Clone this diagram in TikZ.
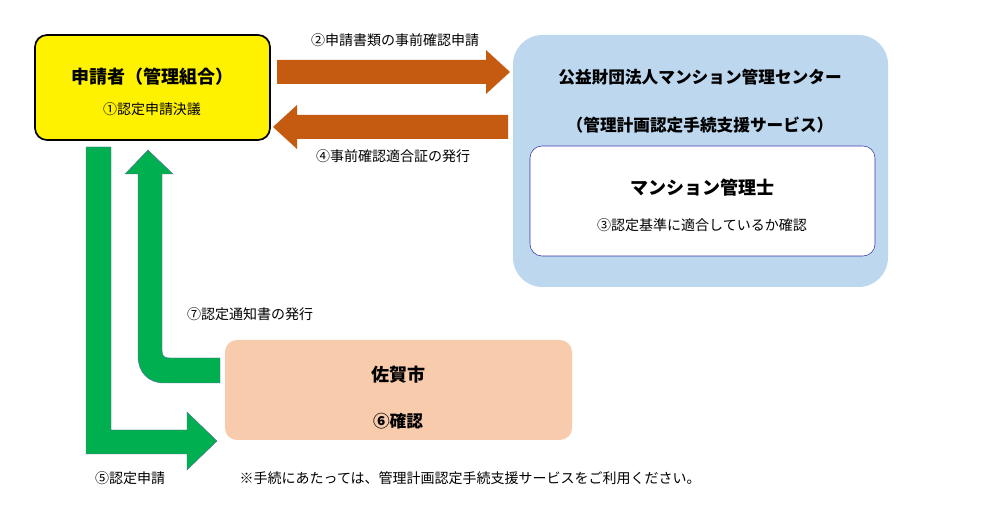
\documentclass[tikz,border=0pt]{standalone}
\usepackage{fontspec}
\setmainfont{Noto Sans CJK JP}
\begin{document}
\begin{tikzpicture}[x=0.75pt,y=-0.75pt,
 big/.style={font=\fontsize{13.5}{16}\selectfont\bfseries},
 sm/.style={font=\fontsize{10.5}{13}\selectfont},
 garrow/.style={fill=green!65!black!90!blue, draw=blue!50!black!70, line width=0.4pt},
 oarrow/.style={fill=orange!70!brown!90!black}]
\definecolor{gr}{HTML}{00AF50}
\definecolor{og}{HTML}{C55A11}
\definecolor{bl}{HTML}{BDD7EE}
\definecolor{pc}{HTML}{F8CBAD}
\useasboundingbox (0,0) rectangle (1008,520);
% yellow box
\node[draw=black, line width=1.3pt, fill=yellow, rounded corners=9pt, minimum width=235*0.75pt, minimum height=105*0.75pt] (app) at (152.5,87.5) {};
\node[big] (appt) at (152,77) {申請者（管理組合）};
\node[sm] (appd) at (152,109) {①認定申請決議};
% blue box
\node[fill=bl, rounded corners=22pt, minimum width=375*0.75pt, minimum height=252*0.75pt] (mc) at (700.5,161) {};
\node[big, font=\fontsize{12.5}{15}\selectfont\bfseries] (mct) at (700,77) {公益財団法人マンション管理センター};
\node[big, font=\fontsize{12.5}{15}\selectfont\bfseries] (mcs) at (700,125) {（管理計画認定手続支援サービス）};
\node[draw=blue!60!black!80, fill=white, rounded corners=9pt, minimum width=345*0.75pt, minimum height=110*0.75pt] (mk) at (702.5,201) {};
\node[big] (mkt) at (702,188) {マンション管理士};
\node[sm] (mkd) at (702,225) {③認定基準に適合しているか確認};
% peach box
\node[fill=pc, rounded corners=9pt, minimum width=347*0.75pt, minimum height=100*0.75pt] (saga) at (398.5,390) {};
\node[big] (sagat) at (398,375) {佐賀市};
\node[big, font=\fontsize{12.5}{15}\selectfont\bfseries] (sagad) at (398,421) {⑥確認};
% orange arrows
\fill[og] (277,60) -- (486,60) -- (486,50) -- (510,72) -- (486,94) -- (486,84) -- (277,84) -- cycle;
\fill[og] (508,115) -- (297,115) -- (297,105) -- (273,127) -- (297,149) -- (297,139) -- (508,139) -- cycle;
\node[sm] (l2) at (395,40) {②申請書類の事前確認申請};
\node[sm] (l4) at (393,156) {④事前確認適合証の発行};
% green arrow 5
\filldraw[fill=gr, draw=blue!40!black!60, line width=0.3pt] (86,147) -- (111,147) -- (111,430) -- (187,430) -- (187,412) -- (217,441) -- (187,470) -- (187,454) -- (86,454) -- cycle;
% green arrow 7
\filldraw[fill=gr, draw=blue!40!black!60, line width=0.3pt] (220,358) -- (170,358) .. controls (164,358) and (162,356) .. (162,350) -- (162,174) -- (173,174) -- (148,150) -- (125,174) -- (138,174) -- (138,356) .. controls (138,372) and (148,383) .. (164,383) -- (220,383) -- cycle;
\node[sm] (l7) at (250,314) {⑦認定通知書の発行};
\node[sm] (l5) at (130,478) {⑤認定申請};
\node[sm, anchor=west] (note) at (235,478) {※手続にあたっては、管理計画認定手続支援サービスをご利用ください。};
\end{tikzpicture}
\end{document}
